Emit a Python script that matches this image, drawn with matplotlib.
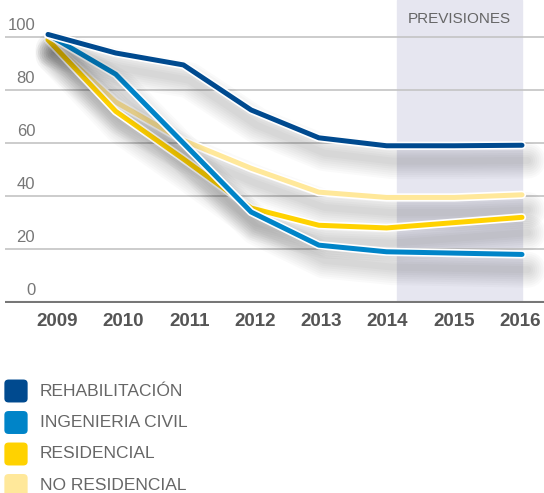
import matplotlib
matplotlib.use("Agg")
import matplotlib.pyplot as plt
import matplotlib.patheffects as pe
from matplotlib.patches import FancyBboxPatch

years = [2009, 2010, 2011, 2012, 2013, 2014, 2015, 2016]
rehabilitacion = [101, 94, 89.5, 72.5, 62, 59, 59, 59.2]
ingenieria_civil = [101, 86, 60, 34, 21.5, 19, 18.5, 18]
residencial = [99, 72, 54, 35.5, 29, 28, 30, 32]
no_residencial = [99, 75.5, 61, 50.5, 41.5, 39.5, 39.5, 40.5]

series = [
    ("NO RESIDENCIAL", no_residencial, "#FFE89A"),
    ("RESIDENCIAL", residencial, "#FFD200"),
    ("INGENIERIA CIVIL", ingenieria_civil, "#0084C8"),
    ("REHABILITACIÓN", rehabilitacion, "#004A8F"),
]
legend_order = ["REHABILITACIÓN", "INGENIERIA CIVIL", "RESIDENCIAL", "NO RESIDENCIAL"]
yticks = [0, 20, 40, 60, 80, 100]
forecast_start = 2014.16

plt.rcParams['font.family'] = ['Liberation Sans', 'DejaVu Sans']

fig = plt.figure(figsize=(5.44, 4.93), dpi=100)
ax = fig.add_axes([0.0092, 0.385, 0.9908, 0.615])
ax.set_xlim(2008.365, 2016.325)
ax.set_ylim(-0.4, 114)

ax.axvspan(forecast_start, years[-1], ymin=0, ymax=1, color="#E6E6F0", zorder=0)
ax.text((forecast_start + years[-1]) / 2, 107, "PREVISIONES", ha="center", va="center",
        fontsize=11, color="#666666")

for v in yticks[1:]:
    ax.axhline(v, color="#C4C4C4", lw=1.2, zorder=1)
ax.axhline(0, color="#777777", lw=1.5, zorder=1)
for v in yticks:
    ax.text(2008.81, v + 1.5, str(v), ha="right", va="bottom", fontsize=12, color="#777777")

shadow = [pe.Stroke(linewidth=26 - 3 * k, foreground="#000000", alpha=0.018, offset=(4, -11))
          for k in range(8)]
for name, vals, col in series:
    ax.plot(years, vals, color=col, lw=3.6, solid_capstyle="round", solid_joinstyle="round",
            zorder=3,
            path_effects=shadow + [pe.Stroke(linewidth=6.0, foreground="white"), pe.Normal()])

# year labels sit on a slightly narrower spread than the data points
label_pos = [y + 0.13 - 0.0229 * i for i, y in enumerate(years)]
ax.set_xticks(label_pos)
ax.set_xticklabels([str(y) for y in years], fontsize=13.5, fontweight="bold", color="#555555")
ax.tick_params(axis="x", length=0, pad=7)
ax.set_yticks([])
for s in ax.spines.values():
    s.set_visible(False)

colors = {name: col for name, vals, col in series}
for i, name in enumerate(legend_order):
    yc = 1 - (391 + 31.5 * i) / 493
    box = FancyBboxPatch((6 / 544, yc - 10 / 493), 20 / 544, 20 / 493,
                         boxstyle="round,pad=0.003,rounding_size=0.008",
                         transform=fig.transFigure, facecolor=colors[name],
                         edgecolor="none")
    fig.patches.append(box)
    fig.text(40 / 544, yc, name, ha="left", va="center", fontsize=12.5, color="#666666")

fig.savefig("out.png", dpi=100)
